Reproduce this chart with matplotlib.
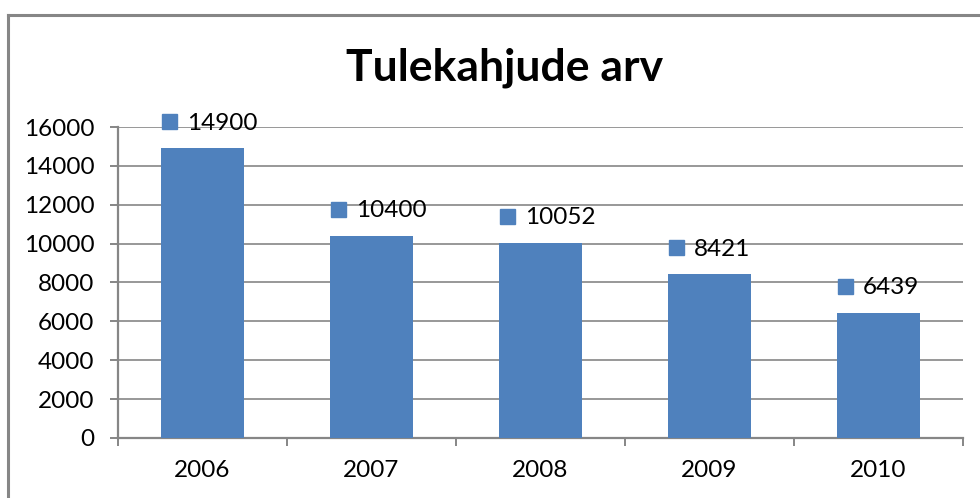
import matplotlib
matplotlib.use("Agg")
import matplotlib.pyplot as plt
from matplotlib.transforms import offset_copy
from matplotlib.lines import Line2D

plt.rcParams['font.family'] = ['Lato', 'DejaVu Sans']

years = ["2006", "2007", "2008", "2009", "2010"]
values = [14900, 10400, 10052, 8421, 6439]
yticks = [0, 2000, 4000, 6000, 8000, 10000, 12000, 14000, 16000]

bar_color = "#4F81BD"
gray = "#868686"

fig = plt.figure(figsize=(9.8, 4.98), dpi=100)
ax = fig.add_axes([118/980, 1-438/498, (963-118)/980, (438-127)/498])

x = list(range(len(years)))
w = 0.49
ax.bar(x, values, width=w, color=bar_color, zorder=3)

ax.set_xlim(-0.5, len(years) - 0.5)
ax.set_ylim(0, 16000)
ax.set_yticks(yticks)
ax.set_yticklabels([str(t) for t in yticks])
ax.set_xticks(x)
ax.set_xticklabels(years)
ax.set_xticks([i - 0.5 for i in range(len(years) + 1)], minor=True)

ax.yaxis.grid(True, color=gray, linewidth=1.2, zorder=0)
for s in ["top", "right"]:
    ax.spines[s].set_visible(False)
for s in ["left", "bottom"]:
    ax.spines[s].set_color(gray)
    ax.spines[s].set_linewidth(1.6)

fs = 17.5
ax.tick_params(axis='x', which='major', length=0, pad=16, labelsize=fs)
ax.tick_params(axis='x', which='minor', length=6, width=1.4, color=gray)
ax.tick_params(axis='y', which='major', length=6, width=1.4, color=gray, pad=11, labelsize=fs)

# data labels with legend key
for i, v in enumerate(values):
    tr_sq = offset_copy(ax.transData, fig=fig, x=7.5, y=27, units='dots')
    ax.plot([i - w/2], [v], marker='s', markersize=10.8, color=bar_color,
            transform=tr_sq, clip_on=False, zorder=4, linestyle='none')
    tr_tx = offset_copy(ax.transData, fig=fig, x=26, y=27, units='dots')
    ax.text(i - w/2, v, str(v), transform=tr_tx, ha='left', va='center_baseline',
            fontsize=fs, color='black', zorder=4)

fig.text(505/980, 1-68/498, "Tulekahjude arv", ha='center', va='center',
         fontsize=32, fontweight='bold', color='black')

# outer chart border
fig.add_artist(Line2D([8/980, 8/980], [0, 1-15/498], color=gray, linewidth=2.2,
                      transform=fig.transFigure))
fig.add_artist(Line2D([8/980, 1.0], [1-15/498, 1-15/498], color=gray, linewidth=2.2,
                      transform=fig.transFigure))

fig.savefig("out.png", dpi=100)
